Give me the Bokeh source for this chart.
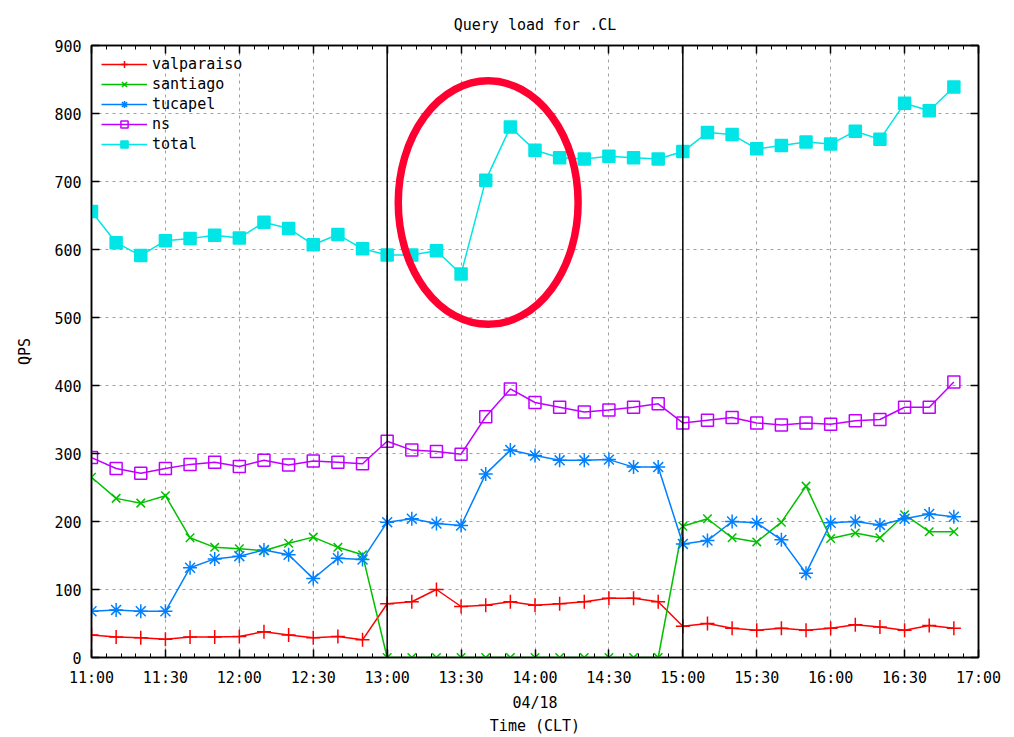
from bokeh.plotting import figure
from bokeh.models import FixedTicker, LinearAxis, Span, Range1d
from bokeh.embed import file_html
from bokeh.resources import INLINE

# ---- data ----
times = ["11:00", "11:10", "11:20", "11:30", "11:40", "11:50",
         "12:00", "12:10", "12:20", "12:30", "12:40", "12:50",
         "13:00", "13:10", "13:20", "13:30", "13:40", "13:50",
         "14:00", "14:10", "14:20", "14:30", "14:40", "14:50",
         "15:00", "15:10", "15:20", "15:30", "15:40", "15:50",
         "16:00", "16:10", "16:20", "16:30", "16:40", "16:50"]
valparaiso = [33, 30, 29, 27, 30, 30, 31, 38, 33, 29, 31, 26,
              79, 82, 100, 75, 77, 82, 77, 79, 82, 87, 87, 82,
              46, 50, 43, 40, 43, 40, 43, 48, 45, 40, 47, 43]
santiago = [265, 234, 227, 238, 176, 162, 160, 157, 168, 177, 162, 151,
            0, 0, 0, 0, 0, 0, 0, 0, 0, 0, 0, 0,
            193, 204, 176, 170, 199, 252, 175, 183, 176, 210, 185, 185]
tucapel = [68, 70, 68, 68, 132, 145, 149, 158, 151, 116, 146, 144,
           199, 204, 197, 194, 270, 305, 297, 290, 290, 291, 280, 280,
           167, 172, 200, 198, 173, 124, 198, 200, 195, 204, 211, 207]
ns = [294, 278, 271, 278, 284, 287, 281, 290, 283, 289, 287, 285,
      318, 305, 303, 299, 354, 395, 375, 368, 361, 364, 368, 373,
      345, 349, 353, 345, 342, 345, 343, 348, 350, 368, 368, 405]
total = [656, 610, 591, 613, 616, 621, 617, 640, 631, 607, 622, 601,
         592, 592, 598, 564, 702, 780, 746, 735, 733, 737, 735, 733,
         744, 772, 769, 748, 753, 758, 755, 774, 762, 815, 804, 839]
x_tick_labels = ["11:00", "11:30", "12:00", "12:30", "13:00", "13:30", "14:00",
                 "14:30", "15:00", "15:30", "16:00", "16:30", "17:00"]
y_ticks = [0, 100, 200, 300, 400, 500, 600, 700, 800, 900]
event_times = ["13:00", "15:00"]
# highlight ellipse annotation: centre time, centre QPS, width (minutes), height (QPS)
highlight_time = "13:41"
highlight_qps = 669
highlight_width_min = 73
highlight_height_qps = 358

FONT = "DejaVu Sans Mono"


def to_min(s):
    h, m = s.split(":")
    return int(h) * 60 + int(m)


x = [to_min(t) for t in times]
xt = [to_min(t) for t in x_tick_labels]
x0, x1 = xt[0], xt[-1]
minor = list(range(x0, x1 + 1, 6))

p = figure(width=1008, height=737, output_backend="svg", toolbar_location=None,
           x_range=Range1d(x0, x1), y_range=Range1d(0, 900),
           min_border_left=91, min_border_right=30, min_border_top=45,
           min_border_bottom=80)

p.title.text = "Query load for .CL"
p.title.align = "center"
p.title.text_font = FONT
p.title.text_font_size = "15px"
p.title.text_font_style = "normal"
p.title.text_color = "black"
p.title.standoff = 24

p.outline_line_color = "black"
p.outline_line_width = 1.5
p.background_fill_color = "white"
p.border_fill_color = "white"

xticker = FixedTicker(ticks=xt, minor_ticks=minor)
yticker = FixedTicker(ticks=y_ticks, minor_ticks=[])


def style_axis(ax):
    ax.axis_line_color = "black"
    ax.axis_line_width = 1.5
    ax.major_tick_in = 8
    ax.major_tick_out = 0
    ax.minor_tick_in = 4
    ax.minor_tick_out = 0
    ax.major_tick_line_color = "black"
    ax.minor_tick_line_color = "black"
    ax.major_tick_line_width = 1.5
    ax.minor_tick_line_width = 1
    ax.major_label_text_font = FONT
    ax.major_label_text_font_size = "15px"
    ax.major_label_text_color = "black"
    ax.axis_label_text_font = FONT
    ax.axis_label_text_font_size = "15px"
    ax.axis_label_text_font_style = "normal"
    ax.axis_label_text_color = "black"


# bottom axis
xa = p.xaxis[0]
xa.ticker = xticker
xa.major_label_overrides = {v: t for v, t in zip(xt, x_tick_labels)}
xa.axis_label = "04/18\nTime (CLT)"
style_axis(xa)
xa.axis_label_text_line_height = 1.3
xa.major_label_standoff = 11
xa.axis_label_standoff = 4

# left axis
ya = p.yaxis[0]
ya.ticker = yticker
ya.axis_label = "QPS"
style_axis(ya)
ya.minor_tick_in = 0
ya.major_label_standoff = 10
ya.axis_label_standoff = 17

# mirrored axes (ticks only)
top = LinearAxis(ticker=xticker, major_label_overrides={v: "" for v in xt})
style_axis(top)
top.major_label_standoff = 0
p.add_layout(top, "above")
right = LinearAxis(ticker=yticker, major_label_overrides={v: "" for v in y_ticks})
style_axis(right)
right.minor_tick_in = 0
right.major_label_standoff = 0
p.add_layout(right, "right")

# grid
for g, tk in ((p.xgrid[0], xticker), (p.ygrid[0], yticker)):
    g.ticker = tk
    g.grid_line_color = "#a0a0a0"
    g.grid_line_dash = "3 4"
    g.grid_line_width = 1

# event lines
for t in event_times:
    p.add_layout(Span(location=to_min(t), dimension="height",
                      line_color="black", line_width=1.5))

series = [
    ("valparaiso", valparaiso, "#FF0000", "cross", 14, "#FF0000"),
    ("santiago", santiago, "#00C000", "x", 12, "#00C000"),
    ("tucapel", tucapel, "#0080FF", "asterisk", 14, "#0080FF"),
    ("ns", ns, "#C000FF", "square", 12, None),
    ("total", total, "#00E5E5", "square", 12, "#00E5E5"),
]
for name, ys, col, mk, sz, fill in series:
    p.line(x, ys, line_color=col, line_width=1.5, legend_label=name)
    p.scatter(x, ys, marker=mk, size=sz, line_color=col, line_width=1.5,
              fill_color=fill, legend_label=name)

p.ellipse(x=[to_min(highlight_time)], y=[highlight_qps],
          width=highlight_width_min, height=highlight_height_qps,
          fill_alpha=0, line_color="#FF0030", line_width=7.5)

lg = p.legend[0]
lg.location = "top_left"
lg.border_line_alpha = 0
lg.background_fill_alpha = 0
lg.label_text_font = FONT
lg.label_text_font_size = "15px"
lg.label_text_color = "black"
lg.glyph_width = 46
lg.glyph_height = 18
lg.label_height = 18
lg.spacing = 2
lg.padding = 4
lg.margin = 6

open("out.html", "w").write(file_html(p, INLINE))
